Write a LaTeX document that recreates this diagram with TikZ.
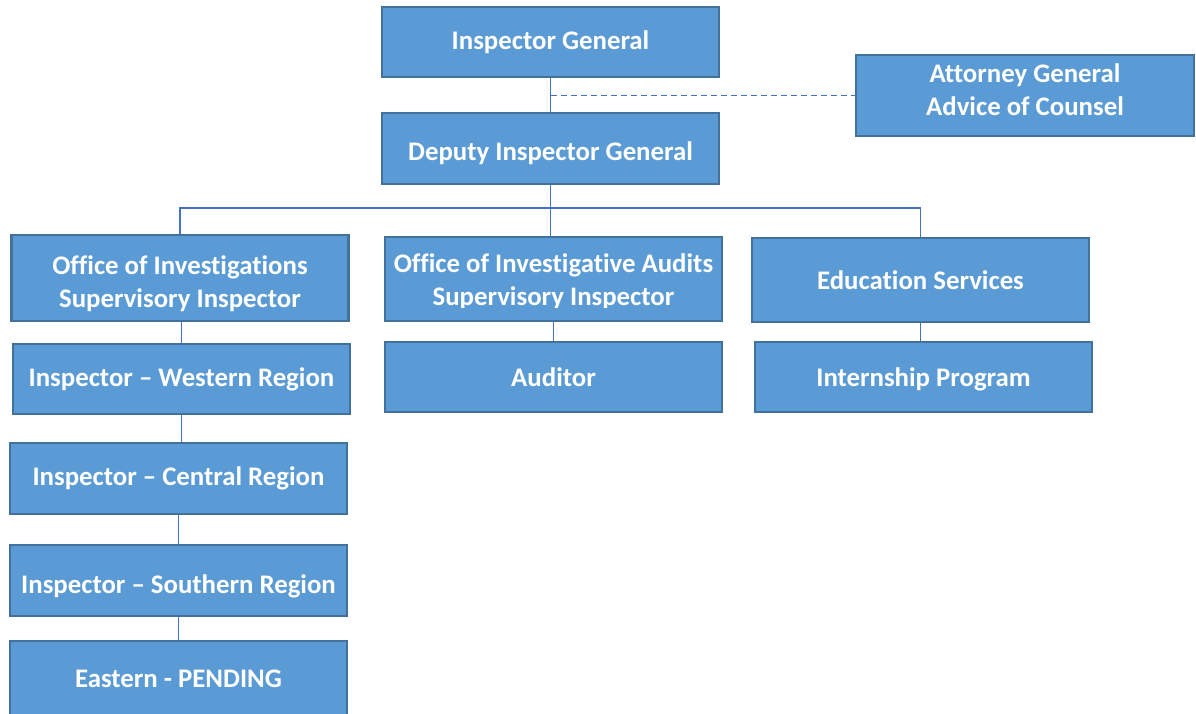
\documentclass[tikz,border=0pt]{standalone}
\usepackage{fontspec}
\setmainfont{Carlito}[Ligatures=NoCommon]
\definecolor{boxfill}{RGB}{91,155,213}
\definecolor{boxedge}{RGB}{65,113,156}
\definecolor{linkcol}{RGB}{68,114,196}
\begin{document}
\begin{tikzpicture}[x=1pt, y=-1pt,
    orgbox/.style={draw=boxedge, fill=boxfill, line width=2.5pt, inner sep=0pt,
        minimum width=337pt, minimum height=70pt, text=white, align=center,
        font=\bfseries\fontsize{26.8}{33}\selectfont},
    boxtext/.style={text=white, align=center, inner sep=0pt,
        font=\bfseries\fontsize{26.8}{33}\selectfont},
    link/.style={draw=linkcol, line width=1.6pt}]
    \useasboundingbox[fill=white] (0,0) rectangle (1196,713);
    \node[orgbox] (ig) at (550.5,42) {Inspector General};
    \node[orgbox, minimum height=71pt] (dig) at (550.5,148.5) {};
    \node[boxtext] (digtext) at ([yshift=-5pt]dig.center) {Deputy Inspector General};
    \node[orgbox, minimum width=338pt, minimum height=81pt] (agc) at (1025,95.5) {};
    \node[boxtext] (agctext) at ([yshift=6pt]agc.center) {Attorney General\\Advice of Counsel};
    \node[orgbox, minimum height=86pt] (oi) at (180,278) {};
    \node[boxtext] (oitext) at ([yshift=-6pt]oi.center) {Office of Investigations\\Supervisory Inspector};
    \node[orgbox, minimum height=84pt] (oia) at (553.5,279) {};
    \begin{scope}
        \clip (oia.north west) rectangle ([yshift=15pt]oia.south east);
        \node[boxtext] (oiatext) at (553.5,282) {Office of Investigative Audits\\Supervisory Inspector};
    \end{scope}
    \node[orgbox, minimum height=84pt] (edu) at (920.5,280) {Education Services};
    \node[orgbox] (west) at (181.5,379) {Inspector -- Western Region};
    \node[orgbox] (aud) at (553.5,377) {Auditor};
    \node[orgbox] (intern) at (923.5,377) {};
    \node[boxtext] (interntext) at ([yshift=-2pt]intern.center) {Internship Program};
    \node[orgbox, minimum height=71pt] (central) at (178.5,478.5) {Inspector -- Central Region};
    \node[orgbox, minimum height=71pt] (south) at (178.5,580.5) {};
    \node[boxtext] (southtext) at ([yshift=-6pt]south.center) {Inspector -- Southern Region};
    \node[orgbox, minimum height=80pt] (east) at (178.5,681) {};
    \node[boxtext] (easttext) at ([yshift=2pt]east.center) {Eastern - PENDING};
    \draw[link] (ig.south) -- (dig.north);
    \draw[link, dash pattern=on 6pt off 4pt] (ig.south |- agc.west) -- (agc.west);
    \draw[link] (dig.south) -- ++(0,23) coordinate (bus);
    \draw[link] (dig.south) -- (dig.south |- oia.north);
    \draw[link] (oi.north) |- (bus) -| (edu.north);
    \draw[link] (west.north) -- (west.north |- oi.south);
    \draw[link] (west.south) -- (west.south |- central.north);
    \draw[link] (central.south) -- (south.north);
    \draw[link] (south.south) -- (east.north);
    \draw[link] (aud.north) -- (aud.north |- oia.south);
    \draw[link] (edu.south) -- (edu.south |- intern.north);
\end{tikzpicture}
\end{document}
